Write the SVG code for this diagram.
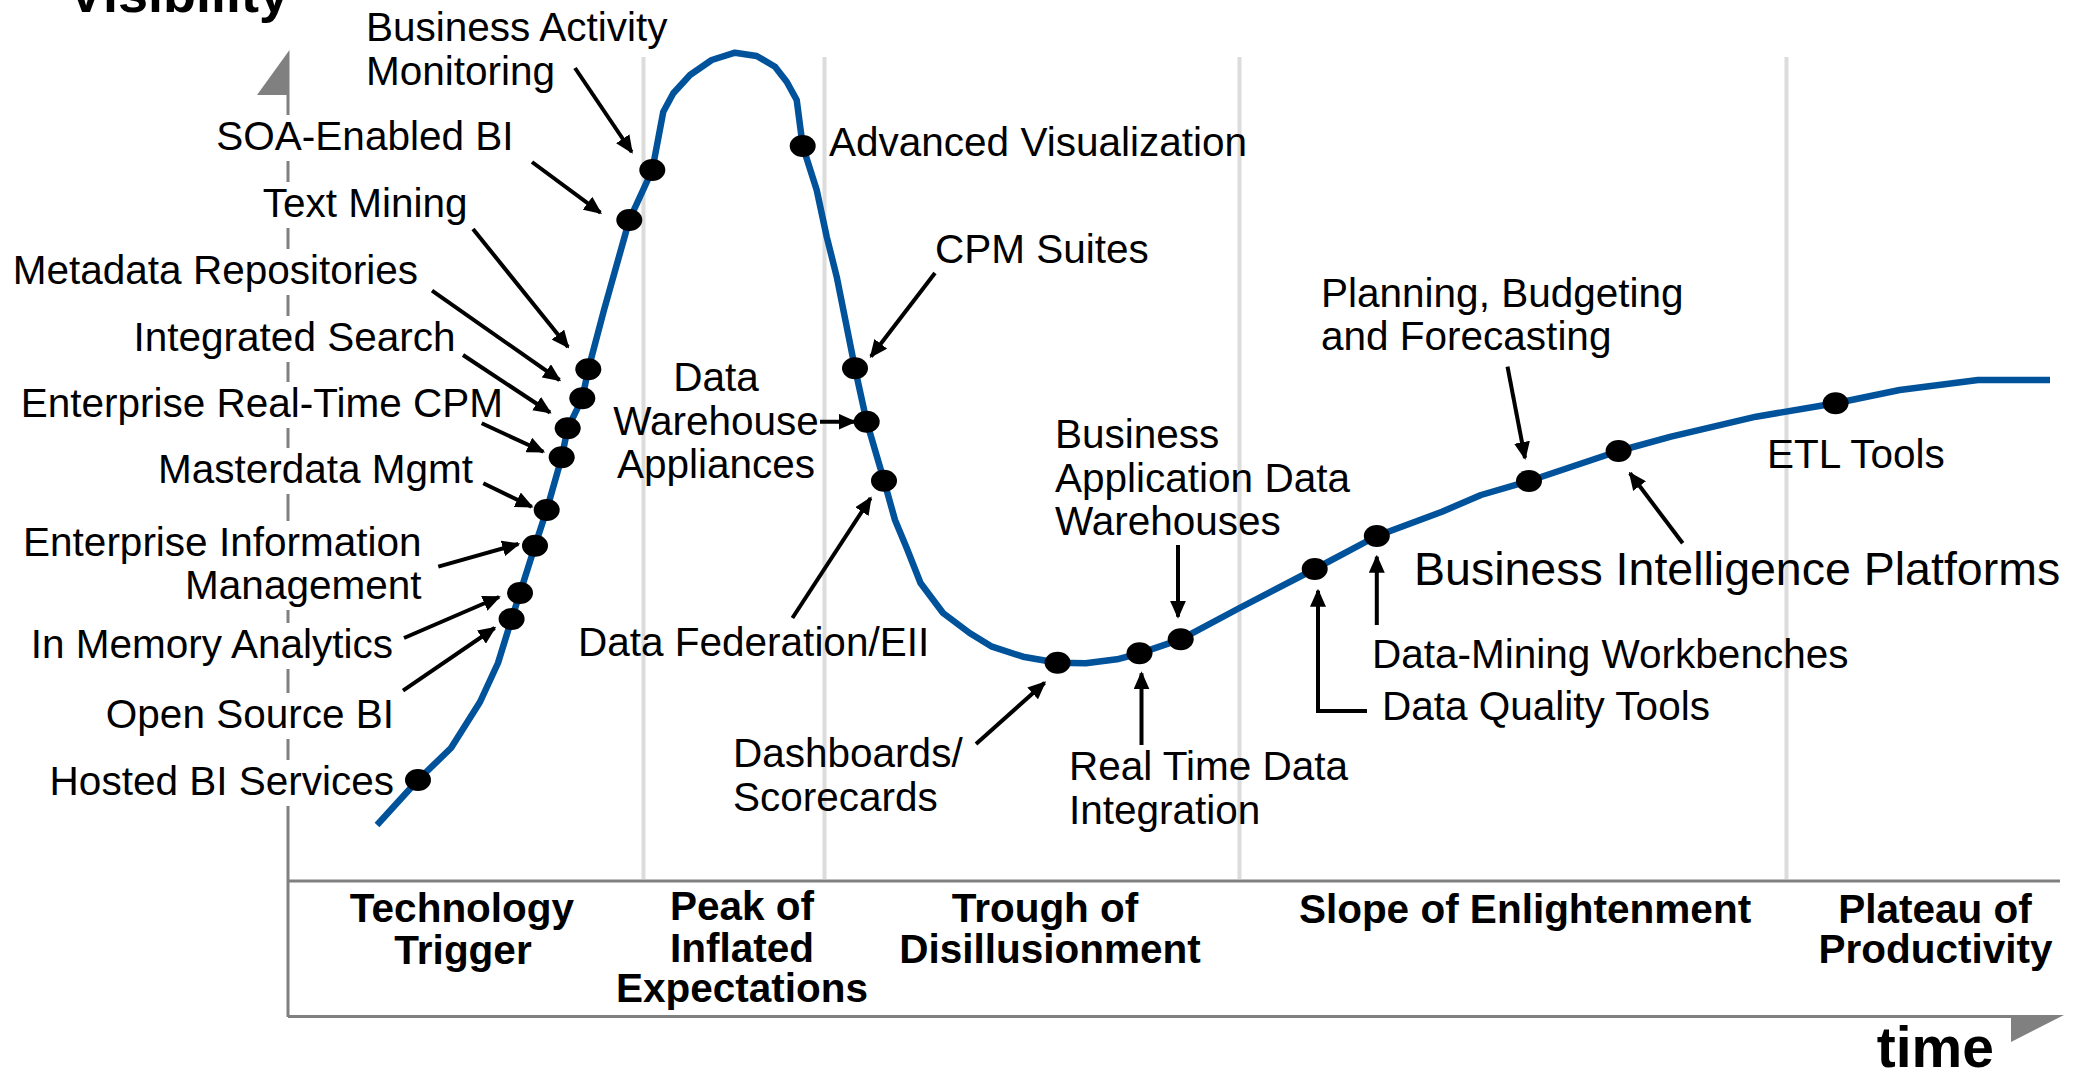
<svg xmlns="http://www.w3.org/2000/svg" width="2075" height="1075" viewBox="0 0 2075 1075">
<style>
text{font-family:"Liberation Sans",Arial,sans-serif;fill:#000}
.l{font-size:40.5px}
.e{text-anchor:end}
.m{text-anchor:middle}
.b{font-weight:bold}
.dot{fill:#000}
.arr{stroke:#000;stroke-width:4;fill:none;marker-end:url(#ah)}
.sep{stroke:#dcdcdc;stroke-width:4}
.axis{stroke:#808080;stroke-width:3;fill:none}
.tri{fill:#808080}
.curve{stroke:#00529b;stroke-width:6.5;fill:none;stroke-linejoin:round}
</style>
<defs>
<marker id="ah" markerUnits="userSpaceOnUse" markerWidth="18" markerHeight="16" viewBox="0 0 18 16" refX="16" refY="8" orient="auto">
<path d="M0,0 L18,8 L0,16 z" fill="#000"/>
</marker>
</defs>
<rect width="2075" height="1075" fill="#fff"/>
<g id="separators">
<line class="sep" x1="643.5" y1="57" x2="643.5" y2="879"/>
<line class="sep" x1="824.5" y1="57" x2="824.5" y2="879"/>
<line class="sep" x1="1239.5" y1="57" x2="1239.5" y2="879"/>
<line class="sep" x1="1786.5" y1="57" x2="1786.5" y2="879"/>
</g>
<g id="axes">
<path class="axis" d="M288,95V115M288,161V182M288,228V249M288,295V316M288,362V382M288,428V448M288,494V521M288,610V623M288,669V693M288,739V760M288,806V1017"/>
<polygon class="tri" points="257,95 289.5,95 289.5,50"/>
<line class="axis" x1="288" y1="881" x2="2060" y2="881"/>
<line class="axis" x1="288" y1="1016.5" x2="2012" y2="1016.5"/>
<polygon class="tri" points="2011,1015 2064,1015 2011,1042"/>
<text class="b e" x="289" y="12" font-size="54">Visibility</text>
<text class="b e" x="1994" y="1067" font-size="57">time</text>
</g>
<g id="phases" class="l b m">
<text class="l b m" x="462" y="922">Technology</text>
<text class="l b m" x="463" y="964">Trigger</text>
<text class="l b m" x="742" y="920">Peak of</text>
<text class="l b m" x="742" y="962">Inflated</text>
<text class="l b m" x="742" y="1002">Expectations</text>
<text class="l b m" x="1045" y="922">Trough of</text>
<text class="l b m" x="1050" y="963">Disillusionment</text>
<text class="l b m" x="1525" y="923">Slope of Enlightenment</text>
<text class="l b m" x="1935" y="923">Plateau of</text>
<text class="l b m" x="1935.5" y="963">Productivity</text>
</g>
<g id="hype-curve">
<polyline class="curve" points="377,825 418,780 451,748 480,702 498,663 511.6,619 520,593 535,545.7 546.7,510 561.7,457.3 567.7,428.3 582.3,398.3 588.3,369.3 604,310 629.3,220 652.3,170 663.3,111.7 673.3,93.3 690,75 711.7,60 735,52.7 756.7,56 775,66.7 786.7,81.7 796.7,100 802.7,146 816.7,190 826.7,236.7 836.7,276.7 855,368.3 866.7,421.7 884,480.7 895,520 906.7,548 920.5,583 943,613 969.6,633 992,646.7 1023,656.7 1057.6,662.7 1085.7,663.3 1117,659.3 1139.5,653.3 1180.7,639.3 1239.5,608 1314.7,569 1376.8,536 1442,511.7 1481,495 1529,481 1618.6,451 1671,436.7 1756,416.7 1835.6,403.3 1899.7,390 1978,380 2050,380"/>
</g>
<g id="connectors">
<line class="arr" x1="575" y1="68" x2="631.7" y2="152"/>
<line class="arr" x1="532" y1="162" x2="600.4" y2="212.7"/>
<line class="arr" x1="473" y1="229" x2="568" y2="347"/>
<line class="arr" x1="432" y1="290.7" x2="559.5" y2="380"/>
<line class="arr" x1="463" y1="355" x2="550" y2="412.5"/>
<line class="arr" x1="481.7" y1="423.3" x2="543.3" y2="451.7"/>
<line class="arr" x1="483.3" y1="483.3" x2="531.7" y2="506.7"/>
<line class="arr" x1="438.3" y1="566.7" x2="518.3" y2="544"/>
<line class="arr" x1="404" y1="638" x2="499" y2="597"/>
<line class="arr" x1="403" y1="690.7" x2="494.6" y2="628"/>
<line class="arr" x1="935" y1="273" x2="871" y2="356.5"/>
<line class="arr" x1="820" y1="421.7" x2="854.5" y2="421.7"/>
<line class="arr" x1="792.4" y1="618" x2="870.6" y2="498.2"/>
<line class="arr" x1="976" y1="744" x2="1044.6" y2="682.7"/>
<line class="arr" x1="1141.5" y1="745" x2="1141.5" y2="673.3"/>
<line class="arr" x1="1178" y1="545" x2="1178" y2="616.7"/>
<line class="arr" x1="1507.5" y1="366.7" x2="1525" y2="458"/>
<line class="arr" x1="1682.7" y1="543.3" x2="1630" y2="473.3"/>
<line class="arr" x1="1376.8" y1="625" x2="1376.8" y2="556.7"/>
<path class="arr" d="M1367,711H1318V590.7"/>
</g>
<g id="n-hosted-bi"><ellipse class="dot" cx="418" cy="780" rx="13" ry="11"/><text class="l e" x="394" y="795">Hosted BI Services</text></g>
<g id="n-open-source-bi"><ellipse class="dot" cx="511.6" cy="619" rx="13" ry="11"/><text class="l e" x="394" y="728">Open Source BI</text></g>
<g id="n-in-memory"><ellipse class="dot" cx="520" cy="593" rx="13" ry="11"/><text class="l e" x="393" y="658">In Memory Analytics</text></g>
<g id="n-eim"><ellipse class="dot" cx="535" cy="545.7" rx="13" ry="11"/><text class="l e" x="421.5" y="556">Enterprise Information</text><text class="l e" x="421.5" y="599">Management</text></g>
<g id="n-masterdata"><ellipse class="dot" cx="546.7" cy="510" rx="13" ry="11"/><text class="l e" x="473" y="483">Masterdata Mgmt</text></g>
<g id="n-ert-cpm"><ellipse class="dot" cx="561.7" cy="457.3" rx="13" ry="11"/><text class="l e" x="503" y="417">Enterprise Real-Time CPM</text></g>
<g id="n-integrated-search"><ellipse class="dot" cx="567.7" cy="428.3" rx="13" ry="11"/><text class="l e" x="455.5" y="351">Integrated Search</text></g>
<g id="n-metadata"><ellipse class="dot" cx="582.3" cy="398.3" rx="13" ry="11"/><text class="l e" x="418" y="284">Metadata Repositories</text></g>
<g id="n-text-mining"><ellipse class="dot" cx="588.3" cy="369.3" rx="13" ry="11"/><text class="l e" x="467.5" y="217">Text Mining</text></g>
<g id="n-soa-bi"><ellipse class="dot" cx="629.3" cy="220" rx="13" ry="11"/><text class="l e" x="513.5" y="150">SOA-Enabled BI</text></g>
<g id="n-bam"><ellipse class="dot" cx="652.3" cy="170" rx="13" ry="11"/><text class="l" x="366" y="41">Business Activity</text><text class="l" x="366" y="84.5">Monitoring</text></g>
<g id="n-adv-vis"><ellipse class="dot" cx="802.7" cy="146" rx="13" ry="11"/><text class="l" x="829" y="156">Advanced Visualization</text></g>
<g id="n-cpm-suites"><ellipse class="dot" cx="855" cy="368.3" rx="13" ry="11"/><text class="l" x="935" y="263">CPM Suites</text></g>
<g id="n-dw-appliances"><ellipse class="dot" cx="866.7" cy="421.7" rx="13" ry="11"/><text class="l m" x="716" y="391">Data</text><text class="l m" x="716" y="434.5">Warehouse</text><text class="l m" x="716" y="478">Appliances</text></g>
<g id="n-data-federation"><ellipse class="dot" cx="884" cy="480.7" rx="13" ry="11"/><text class="l" x="578" y="656">Data Federation/EII</text></g>
<g id="n-dashboards"><ellipse class="dot" cx="1057.6" cy="662.7" rx="13" ry="11"/><text class="l" x="733" y="767">Dashboards/</text><text class="l" x="733" y="811">Scorecards</text></g>
<g id="n-rtdi"><ellipse class="dot" cx="1139.5" cy="653.3" rx="13" ry="11"/><text class="l" x="1069" y="780">Real Time Data</text><text class="l" x="1069" y="824">Integration</text></g>
<g id="n-badw"><ellipse class="dot" cx="1180.7" cy="639.3" rx="13" ry="11"/><text class="l" x="1055" y="447.5">Business</text><text class="l" x="1055" y="491.5">Application Data</text><text class="l" x="1055" y="535">Warehouses</text></g>
<g id="n-data-quality"><ellipse class="dot" cx="1314.7" cy="569" rx="13" ry="11"/><text class="l" x="1382" y="720">Data Quality Tools</text></g>
<g id="n-data-mining"><ellipse class="dot" cx="1376.8" cy="536" rx="13" ry="11"/><text class="l" x="1372" y="668">Data-Mining Workbenches</text></g>
<g id="n-pbf"><ellipse class="dot" cx="1529" cy="481" rx="13" ry="11"/><text class="l" x="1321" y="307">Planning, Budgeting</text><text class="l" x="1321" y="350">and Forecasting</text></g>
<g id="n-bi-platforms"><ellipse class="dot" cx="1618.6" cy="451" rx="13" ry="11"/><text x="1414" y="585" font-size="46.5">Business Intelligence Platforms</text></g>
<g id="n-etl"><ellipse class="dot" cx="1835.6" cy="403.3" rx="13" ry="11"/><text class="l" x="1767" y="468">ETL Tools</text></g>
</svg>
